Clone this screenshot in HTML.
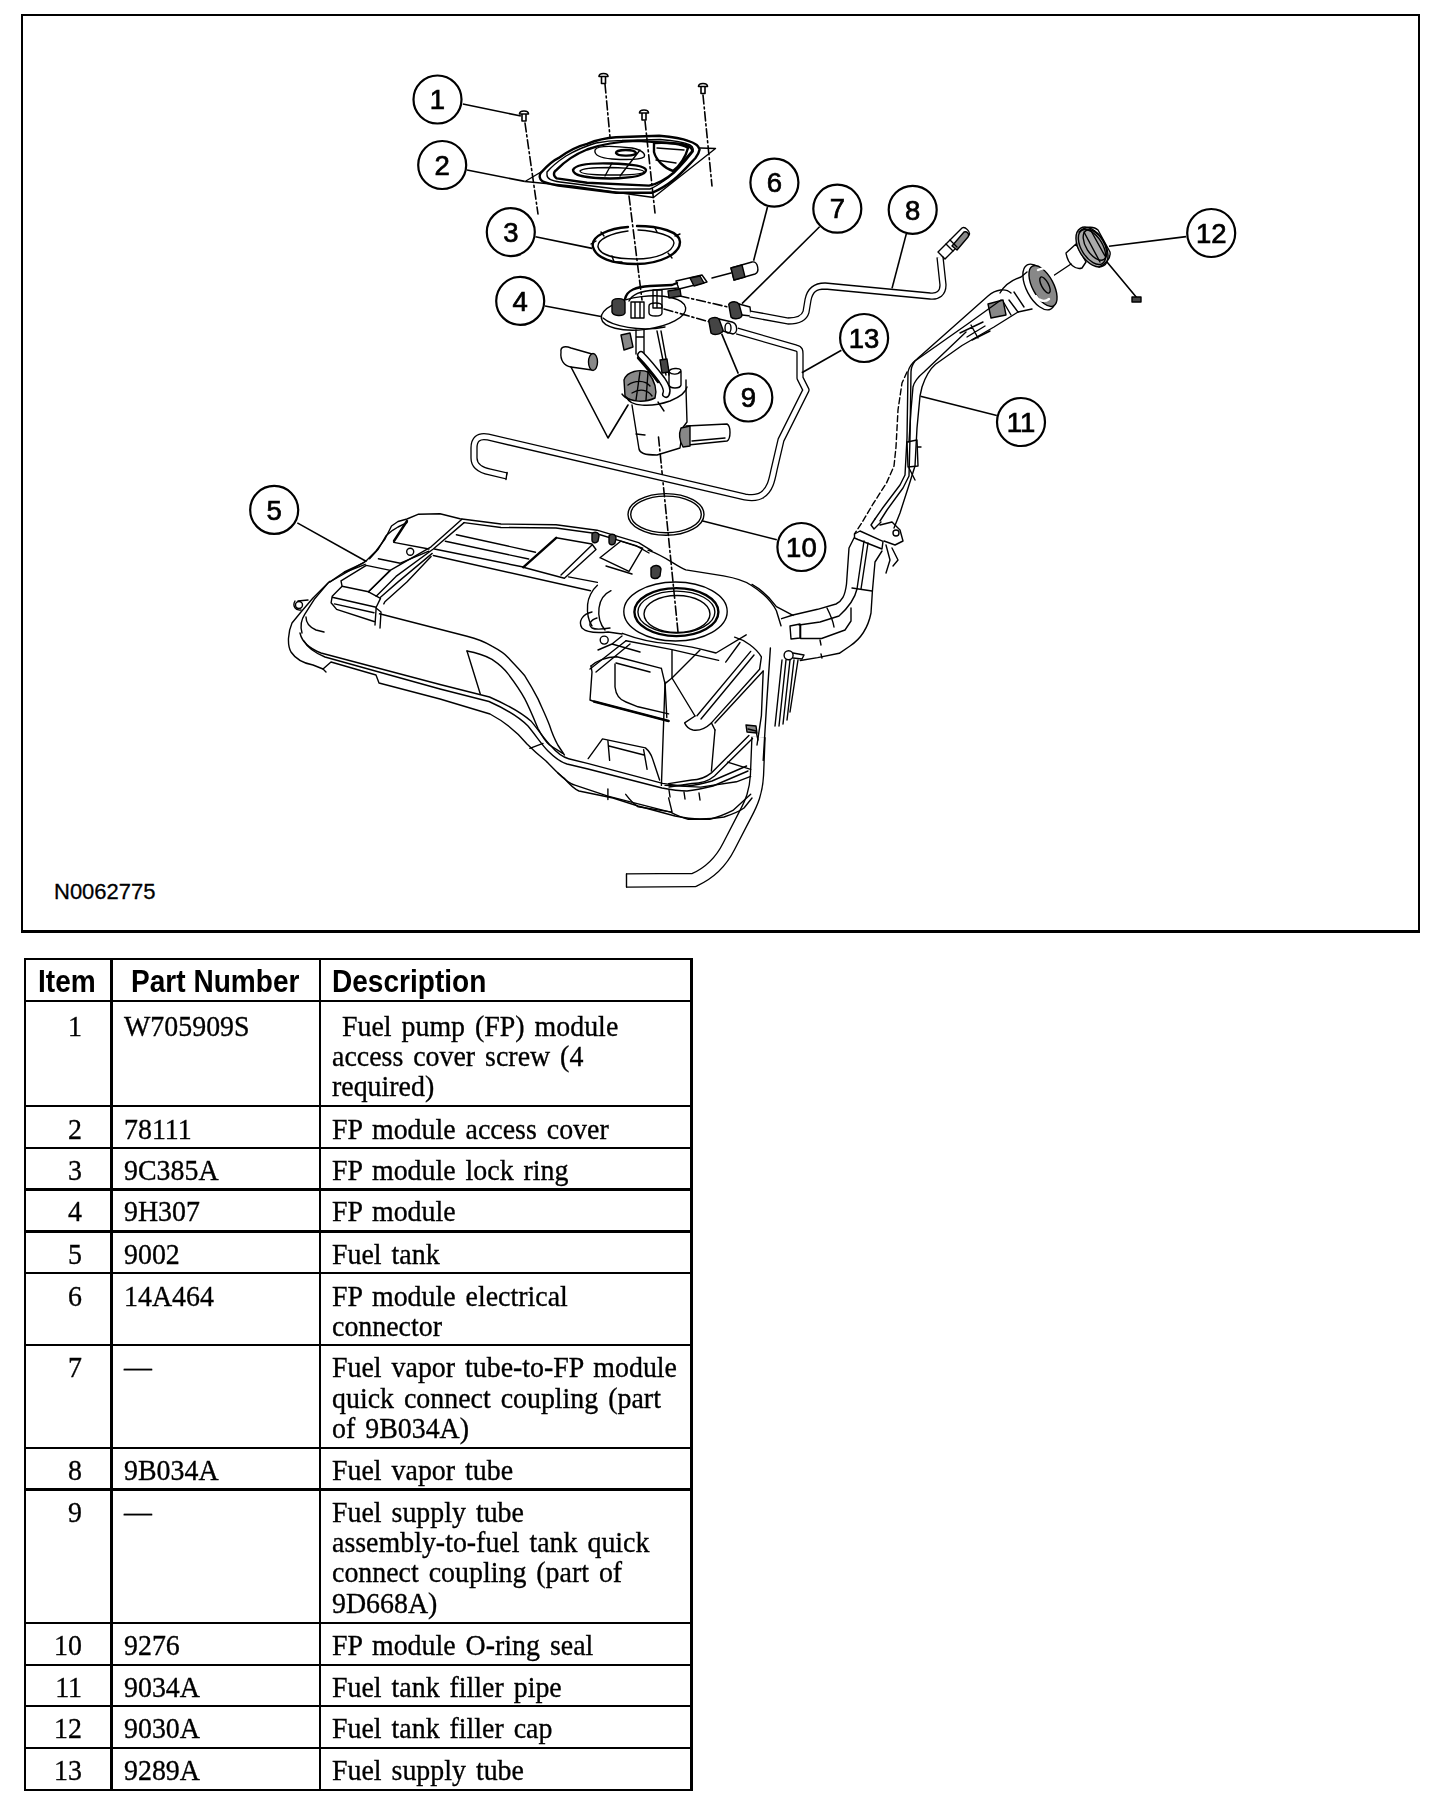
<!DOCTYPE html>
<html><head><meta charset="utf-8"><style>
html,body{margin:0;padding:0;background:#fff;}
body{width:1456px;height:1804px;position:relative;overflow:hidden;}
.l{position:absolute;background:#000;}
.h{position:absolute;font-family:"Liberation Sans",sans-serif;font-weight:bold;font-size:30.5px;line-height:30.4px;white-space:nowrap;color:#000;transform:scaleX(0.92);transform-origin:0 0;}
.t{position:absolute;font-family:"Liberation Serif",serif;font-size:30px;line-height:30.4px;white-space:nowrap;color:#000;transform:scaleX(0.93);transform-origin:0 0;-webkit-text-stroke:0.35px #000;}
.d{word-spacing:3.2px;}
.n{left:24px;width:58px;text-align:right;transform-origin:100% 0;}
#fig{position:absolute;left:0;top:0;filter:grayscale(1);}
#fig .co circle{fill:#fff;stroke:#000;stroke-width:2.2;}
#fig .co text{font-family:"Liberation Sans",sans-serif;font-weight:normal;font-size:27.5px;text-anchor:middle;fill:#000;stroke:#000;stroke-width:0.7px;}
#fig .ld line{stroke:#000;stroke-width:1.6;}
#fig .dash path{stroke-dasharray:9 3 2 3;stroke-width:1.6;}
#fig .th{stroke-width:2.4;}
#fig .scr path{stroke-width:1.6;}
#fig .fill{fill:#444;}
#fig .tex{fill:#888;}
#fig .tex2{fill:#aaa;}
#fig .dot{fill:#555;}
#fig .arm{stroke-width:1.6;}
#fig .tube path{stroke-width:7.3;stroke-linecap:butt;}
#fig .tubei path{stroke:#fff;stroke-width:4.7;stroke-linecap:butt;}
#fig .vent path{stroke-width:5.5;}
#fig .venti path{stroke:#fff;stroke-width:2.6;}
#fig .stube path{stroke-width:14.5;stroke-linecap:butt;}
#fig .stubei path{stroke:#fff;stroke-width:11.8;stroke-linecap:butt;}
#fig .dsh2{stroke-dasharray:6 3;}
#fig .tube2 path{stroke-width:8;}
#fig .tube2i path{stroke:#fff;stroke-width:5;}
#fig .k{fill:none;stroke:#000;stroke-width:1.4;stroke-linejoin:round;stroke-linecap:round;}
</style></head><body>
<div class="l" style="left:21px;top:14px;width:1399px;height:2px"></div>
<div class="l" style="left:21px;top:14px;width:2px;height:919px"></div>
<div class="l" style="left:1418px;top:14px;width:2px;height:919px"></div>
<div class="l" style="left:21px;top:930px;width:1399px;height:3px"></div>
<div style="position:absolute;left:54px;top:880px;font-family:'Liberation Sans',sans-serif;font-size:22px;line-height:24px;-webkit-text-stroke:0.3px #000;">N0062775</div>
<svg id="fig" width="1456" height="940" viewBox="0 0 1456 940">
<g id="parts" class="k">
<!-- screws with dashed centerlines -->
<g class="dash">
<path d="M525,123 L538,214"/>
<path d="M605,84 L610,137"/>
<path d="M645,121 L655,213"/>
<path d="M703,95 L712,186"/>
<path d="M629,196 L642,300"/>
<path d="M680,296 L728,307"/>
<path d="M664,309 L710,322"/>
<path d="M658.5,437 L678,632"/>
</g>
<g class="scr">
<path d="M519.5,114 C519.5,110 528.5,110 528.5,114 Z M522,114 L522,121 L526,121 L526,114"/>
<path d="M599.0,76.5 C599.0,72.5 608.0,72.5 608.0,76.5 Z M601.5,76.5 L601.5,83.5 L605.5,83.5 L605.5,76.5"/>
<path d="M639.5,113 C639.5,109 648.5,109 648.5,113 Z M642,113 L642,120 L646,120 L646,113"/>
<path d="M698.5,86.5 C698.5,82.5 707.5,82.5 707.5,86.5 Z M701,86.5 L701,93.5 L705,93.5 L705,86.5"/>
</g>
<!-- access cover -->
<path d="M525,181.5 L541,172 M525,181.5 L572,186 L653.5,197.5 L715.5,148.5 L700,148"/>
<path class="th" d="M541,172.6 C548,165 552,161 558.3,158.2 C568,151 578,146 587.1,143.8 C597,140 606,138 616,137.3 L659.2,135.8 C672,137 681,138 688.1,140.9 C695,143 699,146 699.6,149.5 C699,153 697,156 695.3,158.2 C688,166 682,173 673.7,179.8 C666,186 659,190 652,192.8 L616,192.8 L558.3,185.6 C550,184 545,183 542.4,181.3 C539,179 539,175 541,172.6 Z"/>
<path d="M547,172 C553,165 560,160 566,156 C576,150 586,146 596,143 C606,141 614,140.5 622,140.5 L660,139.5 C675,140.5 684,142 690,145 C694,147 694,151 692,153 C685,162 677,171 668,178 C661,183 655,187 650,189 L616,189 L560,182 C552,181 547,179 547,175 Z"/>
<path class="th" d="M556.8,169.7 C566,160 576,154 587.1,149.5 C602,144 618,141.5 637.6,140.9 L680.9,143.8 C688,145 692,148 692.4,151 L673.7,172.6 C665,180 657,184 649.1,185.6 L587.1,182.7 L556.8,178.4 C553,176 553,172 556.8,169.7 Z"/>
<path d="M595,150 C597,145 615,146 632,148 C642,150 646,154 644,157 C640,160 628,160 612,159 C600,158 594,155 595,150 Z"/>
<path class="th" d="M616,153 C616,149 635,149 636,153 C636,156 618,157 616,153 Z"/>
<path class="th" d="M573,170 C575,165 590,163 610,163.5 C630,164 645,166 646,170 C646,175 635,178 610,178.5 C590,178.5 573,176 573,170 Z"/>
<path d="M580,171 C582,168 595,167.5 610,167.5 C628,168 644,169.5 644,172 C643,174.5 628,175 610,175 C595,175 580,174 580,171 Z"/>
<path d="M605,176 L612,163 M620,176 L640,150"/>
<path class="th" d="M654,143 C668,142 682,144 688,148 C686,156 680,166 673,171 C664,168 656,160 654,152 Z"/>
<path d="M657,148 L684,150 M656,160 L676,163"/>
<!-- lock ring -->
<path class="th" d="M628,227 C610,228 590,236 593,247 C596,258 612,264 636,264 C660,264 680,254 680,242 C680,232 660,226 637,226"/>
<path d="M628,231 C612,233 597,239 598,247 C600,255 615,259 636,259 C657,259 673,252 674,243 C674,236 657,231 638,230"/>
<path d="M591,244 L596,241 M612,256 L614,262 L622,262 M668,253 L672,258 M675,236 L680,234 M601,232 L604,236 M655,228 L657,232"/>
<!-- FP module -->
<ellipse cx="643.5" cy="313" rx="42.5" ry="16.5" transform="rotate(-7 643.5 313)"/>
<path d="M603,318 C612,326 640,332 665,327"/>
<path class="th" d="M625,299 C627,290 636,287 650,286 L672,285 L677,283"/>
<path d="M629,301 C632,294 640,291 655,290 L678,288"/>
<path d="M676,281 L702,275 L707,282 L679,289 Z"/>
<path class="fill" d="M690,278 L700,276 L704,283 L694,286 Z"/>
<path class="fill" d="M612,302 C612,298 624,297 625,302 L625,313 C623,317 613,316 612,312 Z"/>
<path d="M631,302 L644,302 L644,318 L631,318 Z M635,302 L635,318 M640,302 L640,318"/>
<path d="M653,290 L662,290 L662,308 L653,308 Z M657,290 L657,308"/>
<path d="M649,306 C649,302 662,302 662,306 L662,313 C662,317 649,317 649,313 Z"/>
<path class="fill" d="M668,291 L680,289 L681,296 L669,298 Z"/>
<!-- under flange -->
<path class="tex" d="M621,335 L630,333 L633,347 L624,350 Z"/>
<path d="M636,330 L636,354 M644,330 L644,354 M636,337 L644,337"/>
<path d="M657,331 L666,375 M661,331 L669,375"/>
<path class="fill" d="M660,360 L667,359 L669,372 L662,373 Z"/>
<g class="tube2"><path d="M641,355 C648,362 656,372 662,380 C666,386 668,390 666,394"/></g><g class="tube2i"><path d="M641,355 C648,362 656,372 662,380 C666,386 668,390 666,394"/></g>
<path class="th" d="M638,358 C645,366 652,374 658,382"/>
<path class="tex" d="M624,380 C627,371 640,369 648,372 C654,380 658,388 655,398 C645,403 630,402 625,396 Z"/>
<path d="M628,385 C635,380 645,380 650,386 M632,393 C640,388 648,390 652,396 M640,372 L636,400 M648,372 L646,400"/>
<path d="M669,372 C669,368 681,367 681,371 L681,385 C680,389 670,389 669,385 Z M669,372 C672,375 678,375 681,371"/>
<!-- reservoir -->
<path d="M627,398 C630,406 650,408 670,401 C680,397 686,392 687,387"/>
<path d="M622,394 C624,397 628,399 630,400"/>
<path d="M686,380 L686,389 L687,422 L681,430"/>
<path d="M632,405 L639,449 C640,453 644,455 657,455 L680,448 L681,441"/>
<path d="M636,434 L645,435 M658,402 L664,411"/>
<!-- fuel sender -->
<path d="M686,426 L727,424 C731,426 731,439 727,441 L688,445"/>
<path class="tex" d="M681,428 L690,426 L690,446 L683,447 C679,440 679,433 681,428 Z"/>
<path d="M692,441 L725,438"/>
<!-- float + arm -->
<path d="M561,352 C560,346 566,346 571,348 L592,354 M571,367 L592,370 M561,352 C560,360 564,366 571,367"/>
<ellipse class="tex" cx="593" cy="362" rx="4.5" ry="8.5"/>
<path class="arm" d="M571,367 L608,438 L628,405"/>
<!-- connectors -->
<path d="M731,268 L752,262 C758,261 760,272 755,274 L734,280 Z"/>
<path class="fill" d="M731,268 L742,265 L745,277 L734,280 Z"/>
<path d="M712,278 L731,273"/>
<path class="fill" d="M729,306 C727,302 736,300 739,304 L742,315 C742,319 733,320 731,317 Z"/>
<path d="M739,304 L750,307 L751,316 L742,315"/>
<path class="fill" d="M709,322 C707,318 716,316 719,319 L723,330 C723,334 714,336 711,333 Z"/>
<path d="M719,319 L732,322 C738,324 738,333 733,334 L723,331"/>
<ellipse cx="728" cy="328" rx="3" ry="5"/>
<!-- tubes -->
<g class="tube">
<path id="t8" d="M750,314 L788,321 C797,321 804,319 806,312 L808,300 C810,290 815,286 825,286 L930,296 C938,297 943,293 943,285 L940,257"/>
<path id="t13" d="M737,331 L796,348 C800,349 800,351 800,354 L800,378 L806,390 L781,440 L774,470 C772,480 770,490 762,495 C758,498 752,498 745,497 L488,437 C478,435 474,440 474,448 L474,458 C474,466 480,470 490,472 L507,476"/>
</g>
<g class="tubei">
<path d="M750,314 L788,321 C797,321 804,319 806,312 L808,300 C810,290 815,286 825,286 L930,296 C938,297 943,293 943,285 L940,257"/>
<path d="M737,331 L796,348 C800,349 800,351 800,354 L800,378 L806,390 L781,440 L774,470 C772,480 770,490 762,495 C758,498 752,498 745,497 L488,437 C478,435 474,440 474,448 L474,458 C474,466 480,470 490,472 L506.5,475.9"/>
</g>
<path d="M507,472.5 L506,479.5"/>
<path d="M938,252 L962,228 C965,226 971,232 969,235 L945,259 Z"/>
<path class="tex" d="M952,246 L964,232 C967,231 970,234 968,237 L957,250 Z"/>
<path d="M946,244 L953,251 M950,240 L957,247"/>
<!-- O-ring -->
<ellipse cx="666" cy="514.4" rx="38" ry="20.8"/>
<ellipse cx="666" cy="514.4" rx="35.3" ry="18.3"/>
<!-- filler cap 12 -->
<path d="M1053,276 L1071,264"/>
<path d="M1066,253 L1076,244 L1086,262 L1082,268 C1076,270 1068,265 1066,253 Z"/>
<ellipse class="tex2" cx="1092" cy="247" rx="13" ry="22" transform="rotate(-32 1092 247)"/>
<ellipse cx="1092" cy="247" rx="10.5" ry="19.5" transform="rotate(-32 1092 247)"/>
<ellipse cx="1095" cy="245" rx="9" ry="17" transform="rotate(-32 1095 245)"/>
<path d="M1079,232 C1085,226 1094,226 1098,230 L1110,252 C1111,258 1106,264 1099,267"/>
<path d="M1084,232 L1100,262 M1090,229 L1105,256"/>
<path class="arm" d="M1107,262 L1137,298"/>
<path class="fill" d="M1132,297 L1141,297 L1141,302 L1132,302 Z"/>
<!-- filler neck -->
<ellipse cx="1039" cy="287" rx="12.5" ry="25" transform="rotate(-28 1039 287)"/>
<ellipse class="tex" cx="1043" cy="286" rx="10.5" ry="22.5" transform="rotate(-28 1043 286)"/>
<path class="th" d="M1038,270 C1046,266 1052,270 1053,276 M1049,299 C1044,303 1038,300 1036,296" style="stroke:#fff"/>
<ellipse cx="1045" cy="285" rx="3.5" ry="9" transform="rotate(-28 1045 285)"/>
<path d="M1000,293 C1004,286 1012,280 1021,277 L1027,272 M1018,312 L1032,309"/>
<path d="M1009,300 L1018,312 M1004,303 L1011,315 M1014,292 L1024,307"/>
<path class="tex" d="M988,304 L1003,300 L1006,315 L991,318 Z"/>
<path d="M971,325 L978,338 M960,333 L983,322 M972,340 L990,331 M967,337 L985,326"/>
<!-- filler pipe main -->
<path d="M1011,293 C1006,288 996,289 988,296 L917,359 C912,363 909,366 908,372 L907,438 L905,475 L900,485 L883,507.5 L875,519"/>
<path d="M1001,300 L969,323 L915,361 C912,365 911,368 911,372 L910,438 L909,476 L903,488 L887,510 L880,521"/>
<path d="M1018,312 L994,327 L962,345.5 L935.5,364.3 C930,369 925,378 922,387 L920,396 L917,428 L915,466 L909,485 L900,513 L894,528"/>
<path d="M966,332 L924,372 C918,377 914,382 913,387 L911,410 L909,442"/>
<path class="dsh2" d="M907,372 L902,383 L898,410 L896,447 L894,466 L886.5,483 L873,504 L862,522.6 L854.5,534"/>
<path d="M907,442 L917,440 L918,466 L908,467 Z M917,447 L921,447 M909,468 L915,480"/>
<path d="M875,519 L871,525 L874,529 L881,522"/>
<!-- sleeve + hose -->
<path d="M854.5,534 L860,531 L883,541.4 L882,549 L858,539.5 L854.5,538 Z"/>
<path d="M880,525 L892,522 L900,530 L903,541 L895,545 L884,541 M886,545 L890,560 L886,573 M892,548 L898,560 L893,566"/>
<circle cx="896" cy="533" r="3"/>

<path d="M854,538 L849,548 L846.5,584 C845,596 842,601 836,604 L817.6,609.3 L793,615 L781.6,618.7"/>
<path d="M882,551 L875,562 L872.4,591.3 L871,613 C868,628 862,638 850,646 L839.3,653.3 L817.6,657.6 L800.3,660.5"/>
<path d="M864,541 L857,589 C855,598 850,606 839,616 L820,622 L799,625 M868,543 L861,589"/>
<path d="M800.6,625 L800.6,638.5 L821.6,638.5 L845,630 L851,621 L851,608"/>
<path d="M852,588 L872,591"/>
<path d="M827,608 C830,614 833,620 834,627 M820,640 L821,645 M821,654 L822,658"/>
<path d="M790,626 L800,624 L800,638 L791,639 Z"/>
<!-- corrugated tube + clamp -->
<circle cx="788.6" cy="655.3" r="4.5"/>
<path d="M793,653 L804,655 L802,659 L793,658"/>
<path d="M782,660 L775,726 M786,660 L779,726 M790,660 L783,724 M794,660 L787,720 M798,660 L790,712"/>
<!-- S tube bottom -->
<g class="stube"><path d="M758.5,737 L757,775 C756,792 752,802 745,815 L729,846 C722,860 712,872 694,880 L626,880.5"/></g>
<g class="stubei"><path d="M758.5,737 L757,775 C756,792 752,802 745,815 L729,846 C722,860 712,872 694,880 L626.5,880.5"/></g>
<path d="M626.5,874 L626.5,887"/>
<path class="tex" d="M746,725 L756,726 L757,733 L747,732 Z"/>
<!-- TANK -->
<!-- top hump + top edge -->
<path d="M366,561 L376,551 L385,539 L391.5,526 L398,521.5 L407,519 L418,514.3 L440,513.8 L460,518.7 L501,524 L556,524.7 L597,530.2 L638.6,542.6 L652,550.8"/>
<path d="M464,522.6 L501,527.5 L556,528 L596,533.5 L636,545.6 L649,553"/>
<path d="M369.6,558.8 L378.4,549 L386,535.8 L392.6,530.3 L398,527 L407,522.6"/>
<path class="th" d="M407,521 L394,541"/>
<path d="M393.7,542.4 L428.9,549 M378.4,558.8 L400.3,563.2 L428.9,551.2"/>
<circle cx="410.2" cy="551.7" r="3.5"/>
<!-- strap -->
<path d="M461.9,519.3 L431.1,546.8 L389.3,570.9 L368.5,591.8"/>
<path d="M464.1,522.6 L433.3,549 L396,576.4 L376.2,596.2"/>
<path d="M432.2,553.4 L398.1,581.9 L380.5,597.3"/>
<path d="M431.1,556.6 L406.9,581.9 L384.9,601.7 L383.8,603.9"/>
<!-- top face lines -->
<path d="M456.4,534.7 L535.5,552.2"/>
<path d="M445.4,541.3 L528.7,559"/>
<path d="M434.4,549 L524.6,567.3"/>
<path d="M433.3,555.5 L590.5,590.7"/>
<!-- left panels -->
<path d="M341,580.8 L366.3,565.4 L390.4,570.4 L368.5,591.8 L342.1,586.3 Z"/>
<path d="M344.3,572 L363,563.2 L366,561 M330,581.9 L344.3,572 M343.2,573.1 L365.2,564.3"/>
<path d="M332.2,596.2 L342.1,586.3 M368.5,591.8 L380.5,598.4 L376.2,607.2 L375,625 M332.2,596.2 L331.1,602.8 L336.6,609.4 L374,621.5 M332.2,597.3 L376.2,607.2 M334.4,603.9 L374,612.7"/>
<path d="M376,608 L381,612 L380,628"/>
<!-- main body top edge + S curves -->
<path d="M379.5,613.8 L467,636.3 C478,639 485,642 491.9,646.2 C499,650 504,653 508.3,657.7 C514,664 520,670 524.8,675.8 C530,684 534,691 538,698.9 C542,708 546,716 549.5,725.3 C552,733 555,740 557.8,745 L564.4,755"/>
<path d="M467,651 C478,653 486,656 492,659.3 C499,664 504,668 508.3,674.2 C515,683 520,690 524.8,698.9 C530,709 534,719 538,728.6 C542,736 545,741 549.5,745 L562.7,753.3"/>
<path d="M467,651 L480.3,694"/>
<!-- left flange outline / bottom contour -->
<path d="M366,561 L342,575 L328,583 L313,598 L301,612 L292,623 C288,632 287,645 291,652 C295,658 302,663 313,665 L323,669 L331,662 L376,675 L379,683 L440,699 L490,714 C505,722 518,733 527,744 C535,752 541,757 546,761 C553,768 558,774 564,778 C570,785 574,789 579,791 L613,798 L638,806 L675,816 C685,818 692,819 700,819 C710,819 718,818 724,817 C733,814 740,811 744,808 L752,798"/>
<path d="M300,633 C302,642 308,648 321,653 L440,684.5 L489.5,697 C510,706 522,713 531.5,721.6 C540,732 545,740 551.3,746.3 C557,753 562,757 568.6,758.7 L588.4,763.6 L662.6,783.4 C672,785 680,786 687.3,785.9 C697,785 705,783 712,781 L746.6,766"/>
<path d="M304,641 C307,647 313,652 325,657 L440,689 L489,701.5 C508,710 519,717 528,726 C537,737 542,745 548,751 C555,758 560,762 567,764 L588,769 L662,788 C672,790 680,791 687,791 C697,790 705,788 713,786 L748,771"/>
<path d="M329.5,581.4 L314.3,599.3 L304.7,614.4 C301,620 300,626 302,633"/>
<path d="M306,617 C306,622 309,627 316,630 L324,632"/>
<path d="M295,601 C292,606 296,611 301,610 M298,601 L308,600"/>
<circle cx="299" cy="605" r="3.5"/>
<path d="M323,669 L326,672"/>
<path d="M529.8,748.3 L543,743.4"/>
<!-- top plate -->
<path class="th" d="M523.2,567.3 L556.2,537.8"/>
<path d="M556.2,537.8 L591.9,544 L596,549.5 L564.4,578.3 L523.2,567.3"/>
<path d="M592,545 L561,575"/>
<path class="fill" d="M592,534 C594,531 599,532 599,536 L598,541 C596,544 592,543 592,540 Z M609,536 C611,533 616,534 616,538 L615,543 C613,546 609,545 609,542 Z"/>
<path d="M568.5,576.9 L597.4,582.4 M600,557.7 L620.7,541.2 L642.7,548.1 L629,571.4 L600,557.7 M606,566 L632,574"/>
<!-- module area -->
<path d="M597.4,585.2 C592,590 588,598 587.6,604.6 C587,612 588,620 592,626"/>
<path d="M611,590.7 C604,594 600,600 599,608 C598,616 600,624 605,630"/>
<path d="M648,550.2 C665,556 676,566 685.8,569.9 L723.5,575.9 C735,578 745,581 750.7,585 C762,592 771,600 776.4,610.7 L781,625.8"/>
<path d="M752,584.4 C762,590 770,598 776.4,606.6 L793,615.4"/>
<ellipse cx="675.5" cy="611.5" rx="51.7" ry="29.5"/>
<ellipse class="th" cx="676.4" cy="612.1" rx="42" ry="24"/>
<ellipse cx="676.4" cy="612.1" rx="38.5" ry="21"/>
<ellipse cx="677" cy="614" rx="33" ry="18.5"/>
<path d="M592,612 C582,614 578,622 582,628 C587,633 598,633 608,632 L622,634"/>
<path d="M597,618 C590,620 588,625 592,628 C596,630 604,629 610,628"/>
<circle cx="604.2" cy="640.1" r="4"/>
<path class="fill" d="M651,568 C654,564 660,565 661,569 L660,576 C657,580 651,579 651,575 Z"/>
<path d="M622.3,633.3 C640,640 655,643 670.7,643.9 C690,646 705,650 716,653 L746.2,634.8"/>
<path d="M612,644 L622,636 M598,650 L612,644 L640,652"/>
<!-- lower blocks -->
<path d="M591,666 L592,672 L590,700 L594,701.5 L668.6,721"/>
<path class="th" d="M594,701.5 L668.6,721"/>
<path d="M591,666 C596,661 606,657 616.8,656.8 L661.4,668.4 M616,663 L650,672"/>
<path d="M615,663.9 L615,687 C616,696 620,700 626,702 L638,706.8 L668.6,713.9"/>
<path d="M665,681.8 L666.8,717.5 M665,683.6 L661.4,668.4"/>
<path d="M590,669 L626,640.7 M596,672 L630,644"/>
<path d="M626,640.7 L672,649.6 L718.6,660.4 M672,649.6 L672,678"/>
<path d="M672,678 L695,716 M665,683.6 L672,678 L700,650"/>
<path d="M734.6,637.1 C745,640 756,648 761.4,656.8 L759.6,669.3 L711.4,722.9 C706,728 700,731 693,730 C688,729 686,726 684.6,722.9 L695,716"/>
<path d="M697,715.7 L750.7,651.4 M701,719 L754,655"/>
<path d="M715,722.9 L763.2,671.1 M711.4,722.9 L715,730"/>
<path d="M725.7,662.1 L740,642.5"/>
<path d="M665,683.6 L661.4,785.4 M715,730 L711.4,771.1"/>
<path d="M770.4,647.9 L766.8,701.4 L763.2,760.4 M763.2,671.1 L761.4,715.7 L757,745"/>
<!-- sump box bottom middle -->
<path d="M588.2,758.6 L602.5,738.9 L645.4,747.9 C649,751 651,754 652.5,758.6 L659.6,780"/>
<path d="M607.9,740.7 L609.6,760.4 M643.6,749.6 L647.1,769.3 M609,746 L644,755"/>
<!-- extra bottom flange lines -->
<path d="M557.9,772.9 C565,780 570,784 575.7,785.4 L607.9,796.1 L670.4,812.1 C678,816 683,818 688.2,819.3 L709.6,819.3 C718,817 726,814 732.9,810.4 L750.7,794.3"/>
<path d="M625.7,794.3 C630,800 634,804 638.2,806.8 L672.1,812.1 M668.6,797.9 L672.1,812.1 M607.9,788.9 L607.9,799.6"/>
<path d="M665,785.4 L700.7,787.1 L736.4,781.8 L750.7,776.4"/>
<path d="M669,790 L670,797 M684,792 L685,799 M699,793 L700,800"/>
<!-- thin tube along bottom -->
<path d="M748.9,735.4 L711.4,772.9 C705,778 698,780 691.8,780 L668.6,783.6"/>
<path d="M752.5,738.5 L714.5,776 C708,781.5 700,783.5 692,783.5 L669,787"/>
<path d="M727.5,762.1 L750.7,769.3"/>
<path d="M748,729 L756,731 L758,740"/>


</g>
<g class="ld">
<line x1="462.9" y1="104" x2="520.9" y2="116"/>
<line x1="467" y1="170" x2="524.7" y2="181.4"/>
<line x1="535.5" y1="236.8" x2="592.1" y2="248.4"/>
<line x1="545" y1="306" x2="600.9" y2="316.5"/>
<line x1="297.3" y1="522.9" x2="366" y2="561.3"/>
<line x1="767.5" y1="207" x2="753.6" y2="260.7"/>
<line x1="819.6" y1="226.8" x2="742" y2="303.6"/>
<line x1="906.3" y1="233.9" x2="892" y2="288.4"/>
<line x1="738.3" y1="373.6" x2="721.7" y2="333.9"/>
<line x1="776.8" y1="539.8" x2="701.8" y2="520.7"/>
<line x1="996.8" y1="415.5" x2="920.5" y2="396.3"/>
<line x1="1186.1" y1="236.6" x2="1109" y2="246.2"/>
<line x1="841.4" y1="350.2" x2="801.8" y2="372.8"/>
</g>
<g class="co">
<circle cx="437.5" cy="99.5" r="24"/><text x="437.5" y="109.2">1</text>
<circle cx="442.2" cy="165" r="24"/><text x="442.2" y="174.7">2</text>
<circle cx="510.8" cy="232.1" r="24"/><text x="510.8" y="241.8">3</text>
<circle cx="520.2" cy="300.9" r="24"/><text x="520.2" y="310.6">4</text>
<circle cx="274.2" cy="509.9" r="24"/><text x="274.2" y="519.6">5</text>
<circle cx="774.4" cy="182.6" r="24"/><text x="774.4" y="192.3">6</text>
<circle cx="837.3" cy="208.7" r="24"/><text x="837.3" y="218.4">7</text>
<circle cx="912.7" cy="209.8" r="24"/><text x="912.7" y="219.5">8</text>
<circle cx="748.3" cy="397.5" r="24"/><text x="748.3" y="407.2">9</text>
<circle cx="801.4" cy="547" r="24"/><text x="801.4" y="556.7">10</text>
<circle cx="1021" cy="422" r="24"/><text x="1021" y="431.7">11</text>
<circle cx="1211.2" cy="233" r="24"/><text x="1211.2" y="242.7">12</text>
<circle cx="864.1" cy="338" r="24"/><text x="864.1" y="347.7">13</text>
</g>
</svg>
<div class="l" style="left:24px;top:958px;width:669px;height:2px"></div>
<div class="l" style="left:24px;top:1000px;width:669px;height:2px"></div>
<div class="l" style="left:24px;top:1105px;width:669px;height:2px"></div>
<div class="l" style="left:24px;top:1147px;width:669px;height:2px"></div>
<div class="l" style="left:24px;top:1188px;width:669px;height:3px"></div>
<div class="l" style="left:24px;top:1230px;width:669px;height:3px"></div>
<div class="l" style="left:24px;top:1272px;width:669px;height:2px"></div>
<div class="l" style="left:24px;top:1344px;width:669px;height:2px"></div>
<div class="l" style="left:24px;top:1447px;width:669px;height:2px"></div>
<div class="l" style="left:24px;top:1488px;width:669px;height:3px"></div>
<div class="l" style="left:24px;top:1622px;width:669px;height:2px"></div>
<div class="l" style="left:24px;top:1664px;width:669px;height:2px"></div>
<div class="l" style="left:24px;top:1705px;width:669px;height:2px"></div>
<div class="l" style="left:24px;top:1747px;width:669px;height:2px"></div>
<div class="l" style="left:24px;top:1789px;width:669px;height:2px"></div>
<div class="l" style="left:24px;top:958px;width:2px;height:833px"></div>
<div class="l" style="left:110px;top:958px;width:3px;height:833px"></div>
<div class="l" style="left:319px;top:958px;width:2px;height:833px"></div>
<div class="l" style="left:690px;top:958px;width:3px;height:833px"></div>
<div class="h" style="left:37.5px;top:965.7px">Item</div>
<div class="h" style="left:130.5px;top:965.7px">Part Number</div>
<div class="h" style="left:331.5px;top:965.7px">Description</div>
<div class="t n" style="top:1010.5px">1</div>
<div class="t" style="left:124px;top:1010.5px">W705909S</div>
<div class="t d" style="left:332px;top:1010.5px"> Fuel pump (FP) module<br>access cover screw (4<br>required)</div>
<div class="t n" style="top:1113.5px">2</div>
<div class="t" style="left:124px;top:1113.5px">78111</div>
<div class="t d" style="left:332px;top:1113.5px">FP module access cover</div>
<div class="t n" style="top:1154.7px">3</div>
<div class="t" style="left:124px;top:1154.7px">9C385A</div>
<div class="t d" style="left:332px;top:1154.7px">FP module lock ring</div>
<div class="t n" style="top:1196.3px">4</div>
<div class="t" style="left:124px;top:1196.3px">9H307</div>
<div class="t d" style="left:332px;top:1196.3px">FP module</div>
<div class="t n" style="top:1238.5px">5</div>
<div class="t" style="left:124px;top:1238.5px">9002</div>
<div class="t d" style="left:332px;top:1238.5px">Fuel tank</div>
<div class="t n" style="top:1280.7px">6</div>
<div class="t" style="left:124px;top:1280.7px">14A464</div>
<div class="t d" style="left:332px;top:1280.7px">FP module electrical<br>connector</div>
<div class="t n" style="top:1352.2px">7</div>
<div class="t" style="left:124px;top:1352.2px">—</div>
<div class="t d" style="left:332px;top:1352.2px">Fuel vapor tube-to-FP module<br>quick connect coupling (part<br>of 9B034A)</div>
<div class="t n" style="top:1454.8px">8</div>
<div class="t" style="left:124px;top:1454.8px">9B034A</div>
<div class="t d" style="left:332px;top:1454.8px">Fuel vapor tube</div>
<div class="t n" style="top:1496.5px">9</div>
<div class="t" style="left:124px;top:1496.5px">—</div>
<div class="t d" style="left:332px;top:1496.5px">Fuel supply tube<br>assembly-to-fuel tank quick<br>connect coupling (part of<br>9D668A)</div>
<div class="t n" style="top:1630.4px">10</div>
<div class="t" style="left:124px;top:1630.4px">9276</div>
<div class="t d" style="left:332px;top:1630.4px">FP module O-ring seal</div>
<div class="t n" style="top:1671.6px">11</div>
<div class="t" style="left:124px;top:1671.6px">9034A</div>
<div class="t d" style="left:332px;top:1671.6px">Fuel tank filler pipe</div>
<div class="t n" style="top:1713.2px">12</div>
<div class="t" style="left:124px;top:1713.2px">9030A</div>
<div class="t d" style="left:332px;top:1713.2px">Fuel tank filler cap</div>
<div class="t n" style="top:1755.1px">13</div>
<div class="t" style="left:124px;top:1755.1px">9289A</div>
<div class="t d" style="left:332px;top:1755.1px">Fuel supply tube</div>
</body></html>
